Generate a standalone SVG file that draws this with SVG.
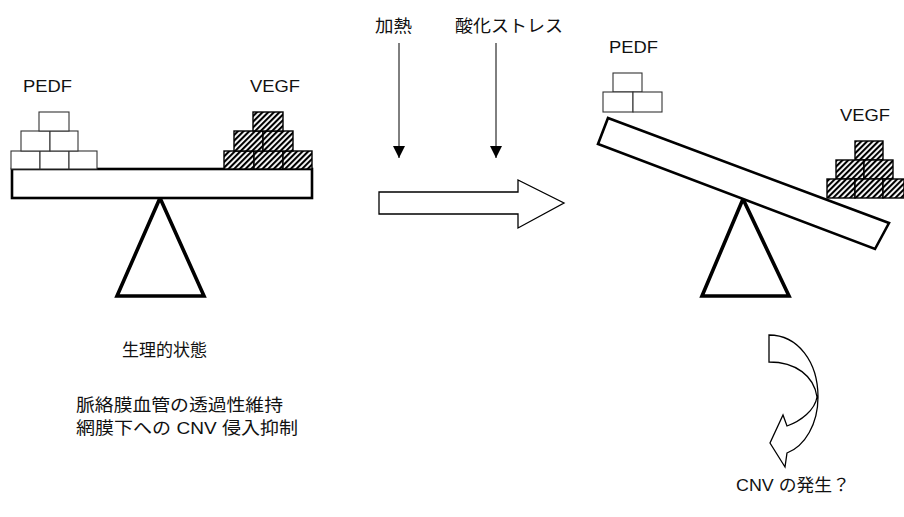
<svg xmlns="http://www.w3.org/2000/svg" width="904" height="517" viewBox="0 0 904 517">
  <defs>
    <pattern id="hatch" width="4" height="4" patternUnits="userSpaceOnUse" patternTransform="rotate(45)">
      <rect width="4" height="4" fill="#fff"/>
      <rect x="0" y="0" width="2.1" height="4" fill="#000"/>
    </pattern>
    <marker id="tri" viewBox="0 0 12 12" refX="12" refY="6" markerWidth="12" markerHeight="12" markerUnits="userSpaceOnUse" orient="auto">
      <path d="M0,0 L12,6 L0,12 Z" fill="#000"/>
    </marker>
  </defs>
  <style>
    text { font-family: "Liberation Sans", "Noto Sans CJK JP", sans-serif; fill: #111; }
    .lbl { font-size: 16.5px; }
    .jp { font-size: 17px; }
    .beam { fill: #fff; stroke: #000; stroke-width: 2.6; }
    .fulcrum { fill: #fff; stroke: #000; stroke-width: 3.6; stroke-linejoin: miter; }
    .pedf rect { fill: #fff; stroke: #333; stroke-width: 1.1; }
    .vegf rect { fill: url(#hatch); stroke: #000; stroke-width: 1.4; }
    .thin { stroke: #000; stroke-width: 1; fill: none; }
    .outline { fill: #fff; stroke: #000; stroke-width: 1.3; stroke-linejoin: miter; }
  </style>

  <!-- balanced seesaw: physiological state -->
  <g id="balance-left">
    <polygon class="fulcrum" points="160,198 117,296 204,296"/>
    <rect class="beam" x="12" y="169" width="300" height="29"/>
    <g class="pedf">
      <rect x="11" y="151" width="29" height="18"/>
      <rect x="40" y="151" width="29" height="18"/>
      <rect x="69" y="151" width="28" height="18"/>
      <rect x="21" y="131" width="29" height="20"/>
      <rect x="50" y="131" width="28" height="20"/>
      <rect x="39" y="112" width="30" height="19"/>
    </g>
    <g class="vegf">
      <rect x="224" y="151" width="30" height="18"/>
      <rect x="254" y="151" width="29" height="18"/>
      <rect x="283" y="151" width="29" height="18"/>
      <rect x="234" y="131" width="29" height="20"/>
      <rect x="263" y="131" width="30" height="20"/>
      <rect x="253" y="112" width="30" height="19"/>
    </g>
    <text class="lbl" x="23" y="92" textLength="49" lengthAdjust="spacingAndGlyphs">PEDF</text>
    <text class="lbl" x="250" y="92" textLength="50" lengthAdjust="spacingAndGlyphs">VEGF</text>
  </g>

  <!-- tilted seesaw: VEGF outweighs PEDF -->
  <g id="balance-right">
    <polygon class="fulcrum" points="743,199 702,296 789,296"/>
    <polygon class="beam" points="608,118 889,223 875,249 598,144"/>
    <g class="pedf">
      <rect x="613" y="73" width="29" height="19"/>
      <rect x="603" y="92" width="30" height="20"/>
      <rect x="633" y="92" width="29" height="20"/>
    </g>
    <g class="vegf">
      <rect x="855" y="141" width="28" height="19"/>
      <rect x="836" y="160" width="28" height="19"/>
      <rect x="864" y="160" width="29" height="19"/>
      <rect x="827" y="179" width="28" height="19"/>
      <rect x="855" y="179" width="28" height="19"/>
      <rect x="883" y="179" width="21" height="19"/>
    </g>
    <text class="lbl" x="609" y="53" textLength="49" lengthAdjust="spacingAndGlyphs">PEDF</text>
    <text class="lbl" x="840" y="121" textLength="50" lengthAdjust="spacingAndGlyphs">VEGF</text>
  </g>

  <!-- stress factors -->
  <g id="stress-heat">
    <text class="jp" x="375" y="32" textLength="37" lengthAdjust="spacingAndGlyphs">加熱</text>
  </g>
  <g id="stress-oxidative">
    <text class="jp" x="455" y="32" textLength="108" lengthAdjust="spacingAndGlyphs">酸化ストレス</text>
  </g>

  <!-- transition arrow -->
  <g id="transition">
    <polygon class="outline" points="379,192 518,192 518,180 564,203 518,228 518,214 379,214"/>
  </g>

  <!-- outcome: CNV development -->
  <g id="outcome">
    <path class="outline" d="M769,335 C798,335 818,362 818,397 C818,424 805,446 787,453 L785,467 L770,443 L783,415 L787,426 C801,421 815,410 817,397 C814,376 796,362 769,362 Z"/>
    <text class="jp" x="736" y="491" textLength="114" lengthAdjust="spacingAndGlyphs">CNV の発生？</text>
  </g>

  <!-- physiological state caption -->
  <g id="caption">
    <text class="jp" x="122" y="356" textLength="85" lengthAdjust="spacingAndGlyphs">生理的状態</text>
    <text class="jp" x="76" y="411" textLength="207" lengthAdjust="spacingAndGlyphs">脈絡膜血管の透過性維持</text>
    <text class="jp" x="76" y="434" textLength="222" lengthAdjust="spacingAndGlyphs">網膜下への CNV 侵入抑制</text>
  </g>

  <!-- connectors -->
  <g id="connectors">
    <line class="thin" x1="399" y1="43" x2="399" y2="158" marker-end="url(#tri)"/>
    <line class="thin" x1="496" y1="43" x2="496" y2="158" marker-end="url(#tri)"/>
  </g>
</svg>
